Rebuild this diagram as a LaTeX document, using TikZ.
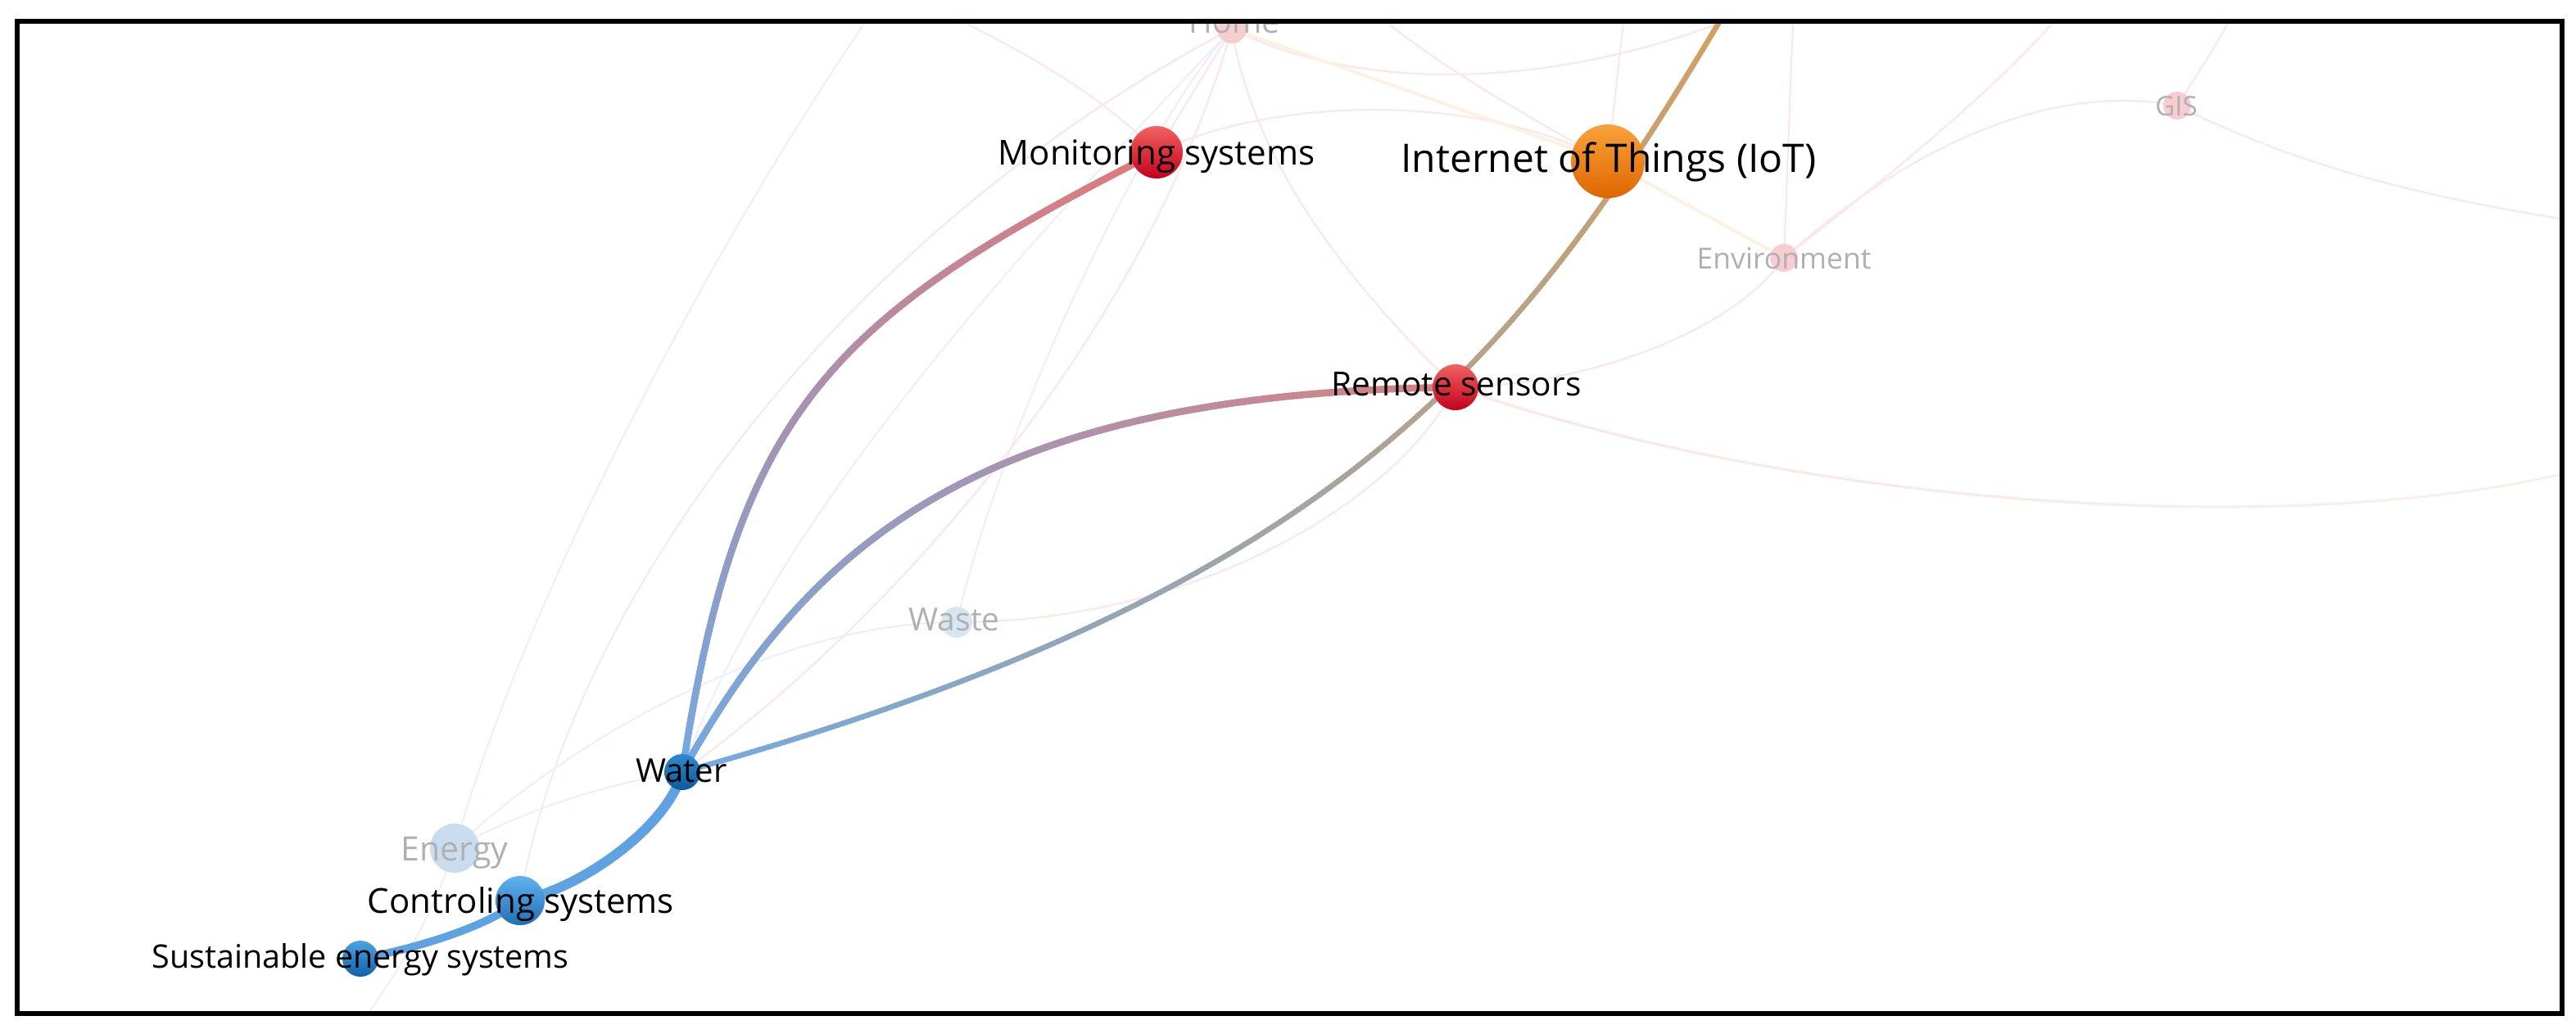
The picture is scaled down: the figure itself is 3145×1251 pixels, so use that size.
\documentclass[tikz,border=0pt]{standalone}
\usepackage{fontspec}
\setmainfont{Open Sans}
\usetikzlibrary{decorations.markings}
\definecolor{edRed}{HTML}{E27878}
\definecolor{edRedB}{HTML}{DA8080}
\definecolor{edBlue}{HTML}{74A9E0}
\definecolor{edTan}{HTML}{D4A060}
\definecolor{edWater}{HTML}{5EA2E2}
\definecolor{fPink}{HTML}{FCE6E6}
\definecolor{fBlue}{HTML}{EAF1F9}
\definecolor{fYel}{HTML}{FDF2E2}
\definecolor{fBeige}{HTML}{F7F1E8}
\definecolor{faintTxt}{HTML}{B0B0B0}
\definecolor{monTop}{HTML}{F2625F}\definecolor{monBot}{HTML}{C4001E}
\definecolor{iotTop}{HTML}{F9A23A}\definecolor{iotBot}{HTML}{DE6600}
\definecolor{watTop}{HTML}{3089CF}\definecolor{watBot}{HTML}{0B5A9C}
\definecolor{conTop}{HTML}{62B2F0}\definecolor{conBot}{HTML}{1E6FB6}
\definecolor{susTop}{HTML}{4CA2E2}\definecolor{susBot}{HTML}{0F62A8}
\definecolor{eneFill}{HTML}{CADDEF}
\definecolor{wasFill}{HTML}{D8E6F3}
\definecolor{pinkFill}{HTML}{F8CDD2}
\pgfdeclarelayer{faintl}
\pgfdeclarelayer{edgel}
\pgfsetlayers{faintl,edgel,main}
\tikzset{
  nd/.style={circle, inner sep=0pt, draw=none},
  lbl/.style={anchor=base, inner sep=0pt, text=black},
  flbl/.style={anchor=base, inner sep=0pt, text=faintTxt},
  fp/.style={draw=fPink, line width=0.022cm},
  fb/.style={draw=fBlue, line width=0.022cm},
  fy/.style={draw=fYel, line width=0.04cm},
  frame/.style={draw=black, line width=0.06cm},
  gradedge/.style n args={3}{decorate, decoration={markings,
    mark=between positions 0 and 1 step 1.5pt with {
      \pgfmathsetmacro\gp{min(100,max(0,(\pgfkeysvalueof{/pgf/decoration/mark info/distance from start})/(\pgfdecoratedpathlength)*100))}
      \fill[fill={#2!\gp!#1}] (-1.1pt,-#3/2) rectangle (1.1pt,#3/2);}}},
}
\begin{document}
\begin{tikzpicture}[x=0.01cm,y=-0.01cm]
\useasboundingbox (0,0) rectangle (3145,1251);
% free ends
\coordinate (t1) at (1075,0);
\coordinate (b1) at (440,1251);
\coordinate (t3) at (1120,0);
\coordinate (r11) at (3145,575);
\coordinate (r14) at (3145,270);
\coordinate (t15) at (2735,0);
\coordinate (t16) at (2530,0);
\coordinate (t18a) at (1985,0);
\coordinate (t18b) at (2190,0);
\coordinate (t19) at (2170,0);
\coordinate (t20) at (1660,0);
\coordinate (tW) at (2115,0);
\begin{scope}
\clip (24,28) rectangle (3125,1235);
% faint nodes
\node[nd, minimum size=0.36cm, fill=pinkFill] (hom) at (1504,35) {};
\node[nd, minimum size=0.34cm, fill=pinkFill] (env) at (2178,315) {};
\node[nd, minimum size=0.34cm, fill=pinkFill] (gis) at (2658,129) {};
\node[nd, minimum size=0.60cm, fill=eneFill] (ene) at (555,1036) {};
\node[nd, minimum size=0.38cm, fill=wasFill] (was) at (1168,760) {};
\node[flbl, font={\fontsize{11.1pt}{13pt}\selectfont}] (homL) at (1507,40) {Home};
\node[flbl, font={\fontsize{10.1pt}{12pt}\selectfont}] (envL) at (2178,328) {Environment};
\node[flbl, font={\fontsize{9.4pt}{11pt}\selectfont}] (gisL) at (2657,141) {GIS};
\node[flbl, font={\fontsize{11.67pt}{14pt}\selectfont}] (eneL) at (555,1051) {Energy};
\node[flbl, font={\fontsize{11.1pt}{13pt}\selectfont}] (wasL) at (1165,770) {Waste};
% main nodes
\node[nd, minimum size=0.64cm, top color=monTop, bottom color=monBot] (mon) at (1412,186) {};
\node[nd, minimum size=0.90cm, top color=iotTop, bottom color=iotBot] (iot) at (1963,197) {};
\node[nd, minimum size=0.56cm, top color=monTop, bottom color=monBot] (rem) at (1777,473) {};
\node[nd, minimum size=0.44cm, top color=watTop, bottom color=watBot] (wat) at (833,943) {};
\node[nd, minimum size=0.60cm, top color=conTop, bottom color=conBot] (con) at (635,1100) {};
\node[nd, minimum size=0.44cm, top color=susTop, bottom color=susBot] (sus) at (440,1171) {};
% labels
\node[lbl, font={\fontsize{11.95pt}{14pt}\selectfont}] (monL) at (1412,201) {Monitoring systems};
\node[lbl, font={\fontsize{13.66pt}{16pt}\selectfont}] (iotL) at (1964,210) {Internet of Things (IoT)};
\node[lbl, font={\fontsize{11.55pt}{14pt}\selectfont}] (remL) at (1778,483) {Remote sensors};
\node[lbl, font={\fontsize{11.4pt}{13pt}\selectfont}] (watL) at (832,955) {Water};
\node[lbl, font={\fontsize{11.95pt}{14pt}\selectfont}] (conL) at (636,1115) {Controling systems};
\node[lbl, font={\fontsize{11.24pt}{13pt}\selectfont}] (susL) at (440,1182) {Sustainable energy systems};
\end{scope}
% faint edges
\begin{pgfonlayer}{faintl}
\begin{scope}
\clip (24,28) rectangle (3125,1235);
\draw[fb] (b1) .. controls (520,1140) and (540,1080) .. (ene.center);
\draw[fb] (ene.center) .. controls (650,700) and (900,250) .. (t1);
\path[gradedge={fBlue}{fPink}{0.022cm}] (con.center) .. controls (690,760) and (1000,300) .. (hom.center);
\draw[fp] (t3) .. controls (1250,60) and (1350,120) .. (mon.center);
\draw[fb] (was.center) .. controls (1230,500) and (1400,150) .. (hom.center);
\draw[fb] (wat.center) .. controls (950,600) and (1350,200) .. (hom.center);
\draw[fp] (wat.center) .. controls (1100,750) and (1400,400) .. (hom.center);
\draw[fp] (rem.center) .. controls (1650,350) and (1530,200) .. (hom.center);
\draw[fp] (rem.center) .. controls (1700,620) and (1450,760) .. (was.center);
\draw[fb] (was.center) .. controls (950,760) and (700,900) .. (ene.center);
\draw[fb] (wat.center) .. controls (720,960) and (620,1000) .. (ene.center);
\path[gradedge={fPink}{fBeige}{0.03cm}] (rem.center) .. controls (2200,620) and (2800,660) .. (r11);
\draw[fp] (rem.center) .. controls (1950,470) and (2120,400) .. (env.center);
\draw[fp] (env.center) .. controls (2330,180) and (2500,100) .. (gis.center);
\draw[fp] (gis.center) .. controls (2800,200) and (2950,240) .. (r14);
\draw[fp] (gis.center) .. controls (2690,80) and (2715,40) .. (t15);
\draw[fp] (t16) .. controls (2450,100) and (2300,220) .. (env.center);
\draw[fy] (iot.center) -- (env.center);
\draw[fp] (iot.center) -- (t18a);
\draw[fp] (env.center) -- (t18b);
\draw[fp] (hom.center) .. controls (1650,110) and (1900,120) .. (t19);
\draw[fp] (mon.center) .. controls (1550,120) and (1800,110) .. (iot.center);
\draw[fp] (mon.center) -- (hom.center);
\draw[fy] (iot.center) -- (hom.center);
\draw[fp] (t20) .. controls (1750,80) and (1880,150) .. (iot.center);
\end{scope}
\end{pgfonlayer}
% strong edges
\begin{pgfonlayer}{edgel}
\begin{scope}
\clip (24,28) rectangle (3125,1235);
\path[gradedge={edRed}{edBlue}{0.085cm}] (mon.center) .. controls (1012,389) and (900,500) .. (wat.center);
\path[gradedge={edRedB}{edBlue}{0.085cm}] (rem.center) .. controls (1200,480) and (990,660) .. (wat.center);
\path[gradedge={edBlue}{edTan}{0.065cm}] (wat.center) .. controls (1650,716) and (1860,430) .. (tW);
\draw[edWater, line width=0.12cm] (wat.center) .. controls (815,1010) and (710,1085) .. (con.center);
\draw[edWater, line width=0.095cm] (con.center) .. controls (590,1135) and (500,1160) .. (sus.center);
\end{scope}
\end{pgfonlayer}
\draw[frame] (21,25.5) rectangle (3127.5,1237.5);
\end{tikzpicture}
\end{document}
